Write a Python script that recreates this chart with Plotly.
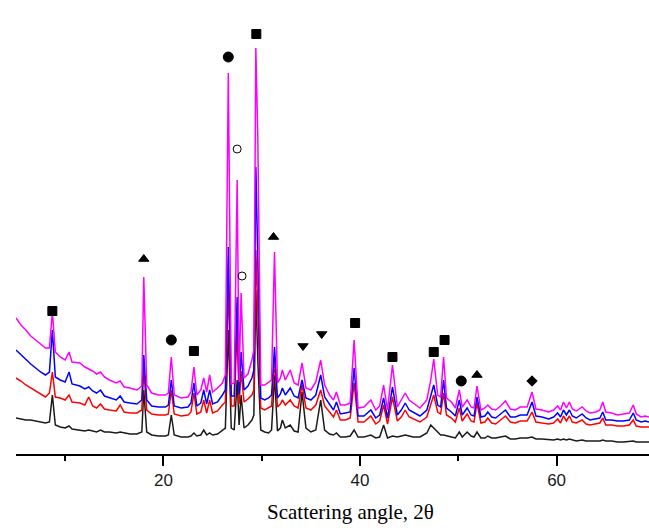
import plotly.graph_objects as go

# 2-theta positions (degrees)
two_theta = [
    5.0, 5.5, 6.0, 6.5, 7.0, 7.5, 8.0, 8.4, 8.7, 9.0,
    9.5, 10.0, 10.4, 10.7, 11.5, 12.0, 12.4, 12.8, 13.2, 13.6,
    14.0, 14.5, 15.2, 15.6, 16.0, 16.6, 17.3, 17.8, 18.0, 18.3,
    18.8, 19.5, 20.2, 20.5, 20.8, 21.1, 21.8, 22.5, 22.8, 23.1,
    23.4, 23.8, 24.1, 24.4, 24.7, 25.0, 25.5, 26.0, 26.3, 26.6,
    26.9, 27.2, 27.5, 27.7, 27.9, 28.2, 28.6, 29.0, 29.2, 29.4,
    29.6, 29.9, 30.3, 30.7, 31.0, 31.3, 31.6, 31.9, 32.1, 32.4,
    32.9, 33.3, 33.7, 34.1, 34.5, 35.0, 35.5, 36.0, 36.4, 36.9,
    37.3, 37.6, 38.0, 38.5, 39.0, 39.4, 39.8, 40.4, 41.1, 41.6,
    42.0, 42.4, 42.8, 43.3, 43.8, 44.2, 44.6, 45.0, 45.4, 46.1,
    46.8, 47.2, 47.5, 47.9, 48.2, 48.5, 48.8, 49.3, 49.7, 50.1,
    50.4, 50.9, 51.3, 51.6, 51.9, 52.3, 52.7, 53.0, 53.4, 53.8,
    54.3, 54.8, 55.3, 55.8, 56.3, 57.0, 57.5, 57.9, 58.5, 59.2,
    59.7, 60.1, 60.4, 60.7, 61.0, 61.3, 61.6, 62.0, 62.6, 63.0,
    63.4, 64.0, 64.4, 64.7, 65.0, 65.6, 66.2, 66.8, 67.4, 67.8,
    68.1, 68.6, 69.0, 69.4,
]

# Intensities (a.u.) of the four patterns
sample_black = [
    36, 35, 34, 34, 33, 32, 31, 32, 59, 29,
    27, 26, 28, 25, 24, 23, 24, 23, 22, 24,
    22, 22, 21, 22, 21, 20, 20, 22, 64, 22,
    19, 18, 18, 19, 39, 19, 17, 17, 18, 21,
    18, 19, 24, 19, 21, 19, 20, 24, 26, 124,
    26, 24, 74, 29, 59, 26, 29, 34, 39, 164,
    94, 24, 22, 21, 24, 79, 23, 26, 34, 26,
    29, 23, 22, 62, 26, 22, 24, 54, 24, 20,
    19, 21, 17, 17, 18, 24, 17, 17, 19, 16,
    17, 29, 16, 18, 17, 18, 19, 18, 17, 17,
    21, 29, 26, 21, 19, 19, 18, 17, 16, 22,
    17, 22, 18, 17, 22, 16, 16, 18, 16, 16,
    17, 18, 15, 15, 16, 16, 17, 15, 15, 14,
    14, 15, 14, 15, 14, 15, 14, 13, 14, 13,
    13, 13, 13, 14, 13, 13, 12, 12, 13, 13,
    12, 12, 12, 12,
]

sample_red = [
    76, 73, 69, 66, 63, 60, 57, 61, 82, 57,
    56, 54, 59, 52, 51, 49, 57, 48, 46, 50,
    45, 44, 43, 49, 42, 41, 41, 44, 84, 44,
    40, 39, 39, 40, 64, 40, 38, 39, 42, 61,
    40, 42, 54, 41, 54, 41, 43, 49, 52, 169,
    48, 48, 128, 50, 83, 52, 55, 59, 64, 204,
    134, 46, 44, 46, 48, 94, 47, 50, 54, 49,
    54, 48, 46, 69, 46, 44, 49, 64, 48, 42,
    37, 44, 34, 34, 36, 71, 32, 32, 38, 30,
    33, 49, 30, 57, 33, 37, 44, 37, 35, 32,
    37, 49, 59, 42, 40, 61, 39, 36, 32, 46,
    33, 40, 33, 32, 51, 31, 32, 36, 31, 30,
    34, 38, 32, 31, 33, 33, 42, 32, 31, 30,
    31, 35, 31, 38, 33, 38, 32, 31, 34, 30,
    29, 30, 31, 36, 29, 29, 28, 28, 29, 34,
    28, 27, 27, 27,
]

sample_blue = [
    104, 99, 94, 90, 86, 82, 79, 82, 124, 77,
    74, 72, 82, 70, 68, 65, 67, 63, 61, 64,
    58, 56, 54, 58, 52, 51, 50, 54, 99, 54,
    48, 47, 47, 49, 74, 48, 46, 47, 51, 71,
    48, 51, 64, 50, 64, 50, 52, 59, 64, 207,
    58, 58, 157, 60, 102, 64, 68, 76, 84, 287,
    194, 56, 54, 56, 59, 107, 56, 60, 66, 59,
    66, 58, 56, 74, 56, 54, 59, 79, 57, 49,
    44, 52, 40, 41, 42, 86, 38, 38, 44, 36,
    39, 56, 36, 67, 39, 44, 51, 44, 42, 38,
    44, 59, 69, 49, 47, 74, 46, 42, 38, 54,
    39, 46, 39, 38, 57, 37, 38, 42, 37, 36,
    40, 44, 37, 37, 39, 39, 52, 38, 37, 35,
    37, 41, 37, 44, 39, 44, 38, 36, 40, 36,
    34, 35, 36, 42, 34, 34, 33, 33, 34, 41,
    34, 32, 33, 32,
]

sample_magenta = [
    136, 129, 124, 118, 114, 110, 106, 106, 142, 102,
    97, 94, 102, 92, 91, 87, 85, 83, 80, 82,
    77, 74, 71, 73, 67, 66, 64, 68, 177, 69,
    61, 59, 59, 61, 97, 59, 56, 57, 62, 87,
    59, 64, 76, 62, 79, 62, 66, 71, 79, 381,
    70, 71, 274, 72, 161, 76, 80, 94, 104, 406,
    317, 69, 69, 72, 74, 202, 71, 76, 84, 74,
    84, 71, 69, 91, 66, 64, 72, 94, 69, 59,
    54, 62, 49, 49, 51, 114, 46, 47, 54, 44,
    48, 69, 44, 89, 47, 54, 61, 54, 51, 46,
    54, 74, 95, 59, 57, 97, 56, 52, 46, 64,
    47, 54, 47, 46, 68, 44, 46, 49, 45, 44,
    48, 53, 45, 44, 47, 47, 62, 45, 44, 42,
    44, 48, 44, 52, 46, 52, 45, 43, 47, 43,
    41, 42, 44, 52, 42, 41, 39, 40, 41, 49,
    40, 37, 38, 37,
]

# Phase markers above the reflections
mark_x = [8.7, 18.0, 20.8, 23.1, 26.6, 27.5, 28.0, 29.45, 31.2,
          34.2, 36.1, 39.5, 43.3, 47.5, 48.6, 50.3, 51.9, 57.5]
mark_y = [143, 195, 114, 103, 397, 305, 178, 420, 217,
          108, 120, 131, 97, 102, 114, 73, 79, 73]
mark_symbol = ["square", "triangle-up", "circle", "square", "circle",
               "circle-open", "circle-open", "square", "triangle-up",
               "triangle-down", "triangle-down", "square", "square",
               "square", "square", "circle", "triangle-up", "diamond"]
mark_size = [9, 9, 10, 9, 10, 8, 8, 9, 9, 9, 9, 9, 9, 9, 9, 10, 9, 8]

fig = go.Figure()
for ys, col in [(sample_black, "#1a1a1a"), (sample_red, "#ff0000"),
                (sample_blue, "#0000ff"), (sample_magenta, "#ff00ff")]:
    fig.add_trace(go.Scatter(x=two_theta, y=ys, mode="lines",
                             line=dict(color=col, width=1.5),
                             showlegend=False, hoverinfo="skip"))

fig.add_trace(go.Scatter(
    x=mark_x, y=mark_y, mode="markers", showlegend=False,
    marker=dict(symbol=mark_symbol, size=mark_size, color="black",
                opacity=1, line=dict(color="black", width=1)),
))

fig.update_layout(
    width=649, height=528,
    margin=dict(l=16, r=0, t=0, b=74),
    paper_bgcolor="white", plot_bgcolor="white",
    xaxis=dict(range=[5.0, 69.4], showgrid=False, zeroline=False,
               showline=True, linecolor="black", linewidth=2,
               ticks="outside", ticklen=10, tickwidth=2, tickcolor="black",
               tick0=0, dtick=20,
               tickfont=dict(family="Liberation Sans, Arial", size=17,
                             color="#1a1a1a"),
               minor=dict(ticks="outside", ticklen=5, tickwidth=2,
                          tickcolor="black", dtick=10, tick0=0,
                          showgrid=False)),
    yaxis=dict(range=[0, 454], visible=False, showgrid=False,
               zeroline=False),
    annotations=[dict(text="Scattering angle, 2θ", xref="paper",
                      yref="paper", x=0.528, y=-0.127, xanchor="center",
                      yanchor="middle", showarrow=False,
                      font=dict(family="Liberation Serif, Times New Roman",
                                size=21, color="black"))],
)

fig.write_html("out.html",
               config={"displayModeBar": False},
               post_script="document.body.style.margin='0';"
                           "document.body.style.overflow='hidden';")
